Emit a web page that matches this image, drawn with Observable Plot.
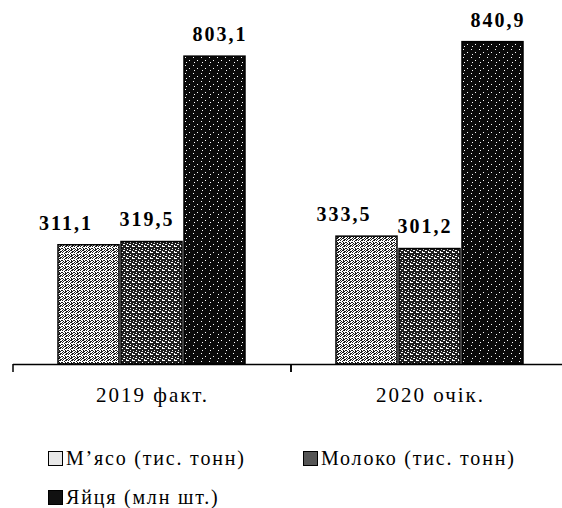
<!DOCTYPE html>
<html><head><meta charset="utf-8">
<script src="https://cdn.jsdelivr.net/npm/d3@7"></script>
<script src="https://cdn.jsdelivr.net/npm/@observablehq/plot@0.6"></script>
<style>
body{margin:0;background:#fff;}
#chart{width:562px;height:508px;position:relative;font-family:"Liberation Serif","Times New Roman",serif;color:#000;}
#chart svg text{letter-spacing:2px;font-family:"Liberation Serif","Times New Roman",serif;}
.legend{display:grid;grid-template-columns:255px 260px;padding-left:48px;row-gap:19px;padding-top:38px;font-size:20px;letter-spacing:1.8px;line-height:20px;}
.item{display:flex;align-items:center;white-space:nowrap;}
.sw{width:13px;height:13px;border:1px solid #000;margin-right:3px;box-sizing:content-box;}
</style></head><body><div id="chart"></div><script>
const groups = ["2019 факт.", "2020 очік."];
const series = ["М’ясо (тис. тонн)", "Молоко (тис. тонн)", "Яйця (млн шт.)"];
const meat = [311.1, 333.5];
const milk = [319.5, 301.2];
const eggs = [803.1, 840.9];
const patternIds = ["pat-meat", "pat-milk", "pat-eggs"];
const swatchColors = ["#e8e8e8", "#555555", "#111111"];

const values = [meat, milk, eggs];
const data = series.flatMap((s, i) => groups.map((g, j) => ({group: g, series: s, value: values[i][j]})));
const fmt = v => v.toFixed(1).replace(".", ",");
const labelDx = [-23, -5, 5];

function edgeTicks(index, scales) {
  const ns = "http://www.w3.org/2000/svg";
  const g = document.createElementNS(ns, "g");
  const y0 = scales.y(0);
  for (const k of groups) {
    const x = scales.fx(k);
    const l = document.createElementNS(ns, "line");
    l.setAttribute("x1", x); l.setAttribute("x2", x);
    l.setAttribute("y1", y0); l.setAttribute("y2", y0 + 8);
    l.setAttribute("stroke", "#000"); l.setAttribute("stroke-width", 1.5);
    g.appendChild(l);
  }
  return g;
}

const plot = Plot.plot({
  width: 562, height: 410,
  marginTop: 19, marginBottom: 46, marginLeft: 13, marginRight: -7,
  style: {fontFamily: '"Liberation Serif","Times New Roman",serif', fontSize: "21px", background: "#fff", overflow: "visible"},
  fx: {domain: groups, padding: 0, label: null, axis: "bottom", tickSize: 0, tickPadding: 23},
  x: {domain: series, paddingInner: 0.03, paddingOuter: 0.7, axis: null},
  y: {domain: [0, 900], axis: null},
  color: {domain: series, range: patternIds.map(id => `url(#${id})`)},
  marks: [
    Plot.barY(data, {fx: "group", x: "series", y: "value", fill: "series", stroke: "#000", strokeWidth: 1.5}),
    ...series.map((s, i) => Plot.text(data.filter(d => d.series === s), {
      fx: "group", x: "series", y: "value", text: d => fmt(d.value),
      dy: -22, dx: labelDx[i], fontSize: 20, fontWeight: "bold", fill: "#000"
    })),
    Plot.ruleY([0], {stroke: "#000", strokeWidth: 1.5}),
    edgeTicks
  ]
});

// texture patterns (styling only)
const ns = "http://www.w3.org/2000/svg";
const defs = document.createElementNS(ns, "defs");
function pattern(id, size, bg, fg, dots) {
  const p = document.createElementNS(ns, "pattern");
  p.setAttribute("id", id);
  p.setAttribute("patternUnits", "userSpaceOnUse");
  p.setAttribute("width", size); p.setAttribute("height", size);
  const r = document.createElementNS(ns, "rect");
  r.setAttribute("width", size); r.setAttribute("height", size); r.setAttribute("fill", bg);
  p.appendChild(r);
  for (const [x, y, w, h] of dots) {
    const d = document.createElementNS(ns, "rect");
    d.setAttribute("x", x); d.setAttribute("y", y);
    d.setAttribute("width", w); d.setAttribute("height", h); d.setAttribute("fill", fg);
    p.appendChild(d);
  }
  defs.appendChild(p);
}
pattern("pat-meat", 6, "#ffffff", "#1a1a1a",
  [[0,0,1,1],[2,0,1,1],[4,1,1,1],[1,2,2,1],[5,2,1,1],[0,3,1,1],[3,3,1,1],[2,4,1,1],[4,4,2,1],[1,5,1,1],[3,5,1,1],[5,0,1,1],[0,5,1,1],[5,3,1,1]]);
pattern("pat-milk", 6, "#1e1e1e", "#ffffff",
  [[0,0,3,1],[4,2,1,1],[1,3,1,1],[3,4,2,1],[0,5,1,1]]);
pattern("pat-eggs", 8, "#0a0a0a", "#ffffff",
  [[1,1,1,1],[5,4,1,1],[2,6,1,1]]);
plot.insertBefore(defs, plot.firstChild);

const root = document.getElementById("chart");
root.appendChild(plot);

const legend = document.createElement("div");
legend.className = "legend";
series.forEach((s, i) => {
  const item = document.createElement("div");
  item.className = "item";
  const sw = document.createElement("span");
  sw.className = "sw";
  sw.style.background = swatchColors[i];
  const t = document.createElement("span");
  t.textContent = s;
  item.appendChild(sw); item.appendChild(t);
  legend.appendChild(item);
});
root.appendChild(legend);
</script></body></html>
